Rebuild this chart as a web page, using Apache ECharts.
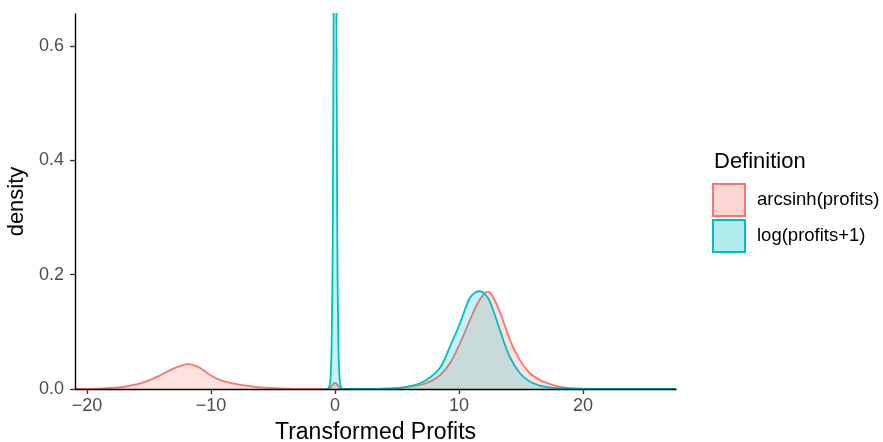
<!DOCTYPE html>
<html>
<head>
<meta charset="utf-8">
<script src="https://cdn.jsdelivr.net/npm/echarts@6/dist/echarts.min.js"></script>
<style>
html,body{margin:0;padding:0;background:#fff;}
#chart{width:883px;height:442px;}
</style>
</head>
<body>
<div id="chart"></div>
<script>
// ---- data ----
var seriesNames = ["arcsinh(profits)", "log(profits+1)"];
var xTicks = [-20, -10, 0, 10, 20];
var yTicks = [0, 0.2, 0.4, 0.6];

var arcsinhX = [-21, -19.5, -18.7, -18, -17.1, -16.4, -15.7, -14.9, -14.1, -13.3, -12.5, -11.9, -11.3, -10.9, -10.1, -9.3, -8.5, -7.7, -6.9, -6.0, -5.2, -4.4, -3.6, -2.5, -1.5, -0.8, -0.5, -0.35, -0.2, -0.1, 0, 0.1, 0.2, 0.35, 0.5, 0.8, 1.5, 3, 4, 5, 6.05, 6.85, 7.66, 8.47, 9.27, 10.08, 10.89, 11.5, 12.0, 12.3, 12.5, 13.3, 14.1, 14.9, 15.7, 16.5, 17.3, 18.1, 19, 19.8, 21, 23, 25, 27.5];
var arcsinhY = [0, 0.0003, 0.001, 0.002, 0.0035, 0.0065, 0.010, 0.016, 0.024, 0.033, 0.040, 0.0435, 0.041, 0.037, 0.025, 0.016, 0.011, 0.0075, 0.005, 0.003, 0.002, 0.001, 0.0005, 0.0002, 0.0001, 0.0002, 0.0008, 0.003, 0.007, 0.0095, 0.0105, 0.0095, 0.007, 0.003, 0.0008, 0.0002, 0.0001, 0.0002, 0.0006, 0.0015, 0.004, 0.007, 0.013, 0.024, 0.045, 0.080, 0.121, 0.150, 0.166, 0.170, 0.169, 0.135, 0.086, 0.051, 0.028, 0.016, 0.009, 0.004, 0.0015, 0.0006, 0.0002, 0.00005, 0, 0];

var logX = [-0.7, -0.54, -0.45, -0.36, -0.27, -0.18, -0.09, 0, 0.09, 0.18, 0.27, 0.36, 0.45, 0.54, 0.7, 1.5, 3, 4, 5, 6.05, 6.85, 7.66, 8.47, 9.27, 10.08, 10.5, 10.89, 11.3, 11.7, 12.1, 12.5, 13.3, 14.1, 14.9, 15.7, 16.5, 17.3, 18.1, 19, 20, 22, 25, 27.5];
var logY = [0, 0.001, 0.005, 0.02, 0.08, 0.28, 0.9, 3.0, 0.9, 0.28, 0.08, 0.02, 0.005, 0.001, 0, 0, 0.0001, 0.0005, 0.0015, 0.005, 0.010, 0.020, 0.037, 0.074, 0.115, 0.140, 0.160, 0.169, 0.171, 0.166, 0.153, 0.103, 0.056, 0.028, 0.013, 0.006, 0.003, 0.0015, 0.0006, 0.0002, 0.00005, 0, 0];

var lineColors = ["#F8766D", "#00BFC4"];
var fillColors = ["rgba(248,118,109,0.3)", "rgba(0,191,196,0.3)"];
var keyColors = ["#FDD6D3", "#B3ECED"];

function pairs(xs, ys) { return xs.map(function (x, i) { return [x, ys[i]]; }); }
var dataSets = [pairs(arcsinhX, arcsinhY), pairs(logX, logY)];

var FONT = "Liberation Sans, Arial, Helvetica, sans-serif";
var chart = echarts.init(document.getElementById('chart'), null, {renderer: 'canvas'});
chart.setOption({
  animation: false,
  backgroundColor: '#fff',
  textStyle: {fontFamily: FONT},
  grid: {left: 75, right: 207, top: 14, bottom: 53, containLabel: false, outerBoundsMode: 'none'},
  title: {
    text: 'Definition', left: 709, top: 146,
    textStyle: {fontFamily: FONT, fontSize: 22, fontWeight: 'normal', color: '#000'}
  },
  legend: {
    orient: 'vertical', left: 712, top: 183, padding: 0,
    icon: 'rect', itemWidth: 32, itemHeight: 32, itemGap: 2,
    textStyle: {fontFamily: FONT, fontSize: 18.5, color: '#000', padding: [0, 0, 0, 7]},
    data: seriesNames.map(function (n, i) {
      return {name: n, itemStyle: {color: keyColors[i], borderColor: lineColors[i], borderWidth: 2}};
    })
  },
  xAxis: {
    type: 'value', min: -20.97, max: 27.5, zlevel: 1, z: 10,
    name: 'Transformed Profits', nameLocation: 'middle', nameGap: 32,
    nameTextStyle: {fontFamily: FONT, fontSize: 23, color: '#000'},
    axisLine: {show: true, onZero: false, lineStyle: {color: '#000', width: 1.4}},
    axisTick: {show: true, length: 5, customValues: xTicks, lineStyle: {color: '#333', width: 1.3}},
    axisLabel: {customValues: xTicks, fontFamily: FONT, fontSize: 18, color: '#4D4D4D', margin: 8,
      formatter: function (v) { return String(v).replace('-', '\u2212'); }},
    splitLine: {show: false}
  },
  yAxis: {
    type: 'value', min: 0, max: 0.656, zlevel: 1, z: 10,
    name: 'density', nameLocation: 'middle', nameGap: 46, nameRotate: 90,
    nameTextStyle: {fontFamily: FONT, fontSize: 22, color: '#000'},
    axisLine: {show: true, onZero: false, lineStyle: {color: '#000', width: 1.4}},
    axisTick: {show: true, length: 5, customValues: yTicks, lineStyle: {color: '#333', width: 1.3}},
    axisLabel: {customValues: yTicks, fontFamily: FONT, fontSize: 18, color: '#4D4D4D', margin: 11,
      formatter: function (v) { return v.toFixed(1); }},
    splitLine: {show: false}
  },
  series: seriesNames.map(function (n, i) {
    return {
      name: n, type: 'line', data: dataSets[i], smooth: 0.35,
      showSymbol: false, symbol: 'none', clip: true,
      lineStyle: {color: lineColors[i], width: 1.8},
      itemStyle: {color: lineColors[i]},
      areaStyle: {color: fillColors[i], origin: 'start'},
      z: 2 + i
    };
  })
});
</script>
</body>
</html>
